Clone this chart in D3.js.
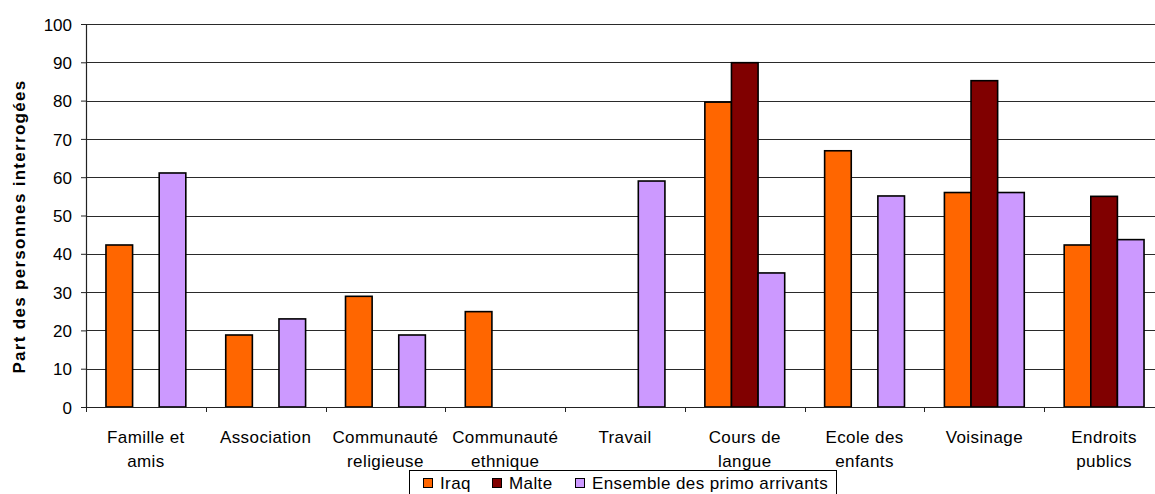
<!DOCTYPE html>
<html><head><meta charset="utf-8">
<script src="https://cdn.jsdelivr.net/npm/d3@7"></script>
<style>body{margin:0;background:#fff;} svg{display:block;font-family:"Liberation Sans",Arial,sans-serif;}</style>
</head><body>
<svg id="c" width="1155" height="494"></svg>
<script>
const categories = [["Famille et","amis"],["Association"],["Communauté","religieuse"],["Communauté","ethnique"],["Travail"],["Cours de","langue"],["Ecole des","enfants"],["Voisinage"],["Endroits","publics"]];
const seriesNames = ["Iraq","Malte","Ensemble des primo arrivants"];
const iraq = [42.3, 18.8, 28.9, 24.9, null, 79.6, 66.9, 56.0, 42.3];
const malte = [null, null, null, null, null, 89.9, null, 85.2, 55.0];
const ensemble = [61.1, 23.0, 18.8, null, 59.0, 35.0, 55.1, 56.0, 43.7];
const yTicks = [0,10,20,30,40,50,60,70,80,90,100];
const colors = ["#FF6600","#800000","#CC99FF"];

(function(){
const series = [iraq, malte, ensemble];
const svg = d3.select("#c");
const mLeft = 86, mRight = 1164, mTop = 24, mBottom = 407;
const x = d3.scaleBand().domain(d3.range(categories.length)).range([mLeft, mRight]).paddingInner(0).paddingOuter(0);
const y = d3.scaleLinear().domain([0,100]).range([mBottom, mTop]);
const inner = d3.scaleBand().domain(d3.range(3)).range([0, x.bandwidth()]).paddingOuter(0.75).paddingInner(0);

// gridlines
svg.append("g").selectAll("line").data(yTicks.filter(d=>d>0)).join("line")
  .attr("x1", mLeft).attr("x2", mRight).attr("y1", d=>Math.round(y(d))+0.5).attr("y2", d=>Math.round(y(d))+0.5)
  .attr("stroke", "#2a2a2a").attr("stroke-width", 1);

// bars
series.forEach((s, si) => {
  svg.append("g").selectAll("rect").data(s.map((v,i)=>({v,i})).filter(d=>d.v!=null)).join("rect")
    .attr("x", d=>x(d.i)+inner(si)).attr("width", inner.bandwidth())
    .attr("y", d=>y(d.v)).attr("height", d=>y(0)-y(d.v))
    .attr("fill", colors[si]).attr("stroke", "#000").attr("stroke-width", 1.6);
});

// y axis
const ya = svg.append("g").attr("transform", `translate(${mLeft},0)`)
  .call(d3.axisLeft(y).tickValues(yTicks).tickSize(5).tickPadding(9));
ya.select(".domain").attr("stroke","#222").attr("stroke-width",1.2);
ya.selectAll(".tick line").attr("stroke","#222");
ya.selectAll("text").attr("font-size","17px").attr("fill","#000").attr("font-family","Liberation Sans, Arial, sans-serif").attr("dy","0.36em");

// x axis
const xa = svg.append("g").attr("transform", `translate(0,${mBottom})`);
xa.append("line").attr("x1", mLeft).attr("x2", mRight).attr("y1",0.5).attr("y2",0.5).attr("stroke","#222").attr("stroke-width",1.2);
xa.selectAll("line.t").data(d3.range(categories.length)).join("line").attr("class","t")
  .attr("x1", i=> Math.round(x(i))+0.5).attr("x2", i=> Math.round(x(i))+0.5)
  .attr("y1",0).attr("y2",5).attr("stroke","#222");
categories.forEach((lines, i) => {
  const t = xa.append("text").attr("text-anchor","middle").attr("font-size","17px").attr("letter-spacing","0.4px").attr("fill","#000");
  lines.forEach((l, li) => t.append("tspan").attr("x", x(i)+x.bandwidth()/2).attr("y", 36 + li*24).text(l));
});

// y label
svg.append("text").attr("transform", `translate(25,${(mTop+mBottom)/2+11}) rotate(-90)`)
  .attr("text-anchor","middle").attr("font-size","17px").attr("letter-spacing","1.3px").attr("font-weight","bold").text("Part des personnes interrogées");

// legend
const lg = svg.append("g");
lg.append("rect").attr("x",409.5).attr("y",470.5).attr("width",427).attr("height",30).attr("fill","#fff").attr("stroke","#000");
const lx = [423, 492, 575];
seriesNames.forEach((n,i)=>{
  lg.append("rect").attr("x",lx[i]+0.5).attr("y",478.5).attr("width",9).attr("height",9).attr("fill",colors[i]).attr("stroke","#000");
  lg.append("text").attr("x",lx[i]+17).attr("y",489).attr("font-size","17px").attr("letter-spacing","0.4px").text(n);
});
})();
</script>
</body></html>
